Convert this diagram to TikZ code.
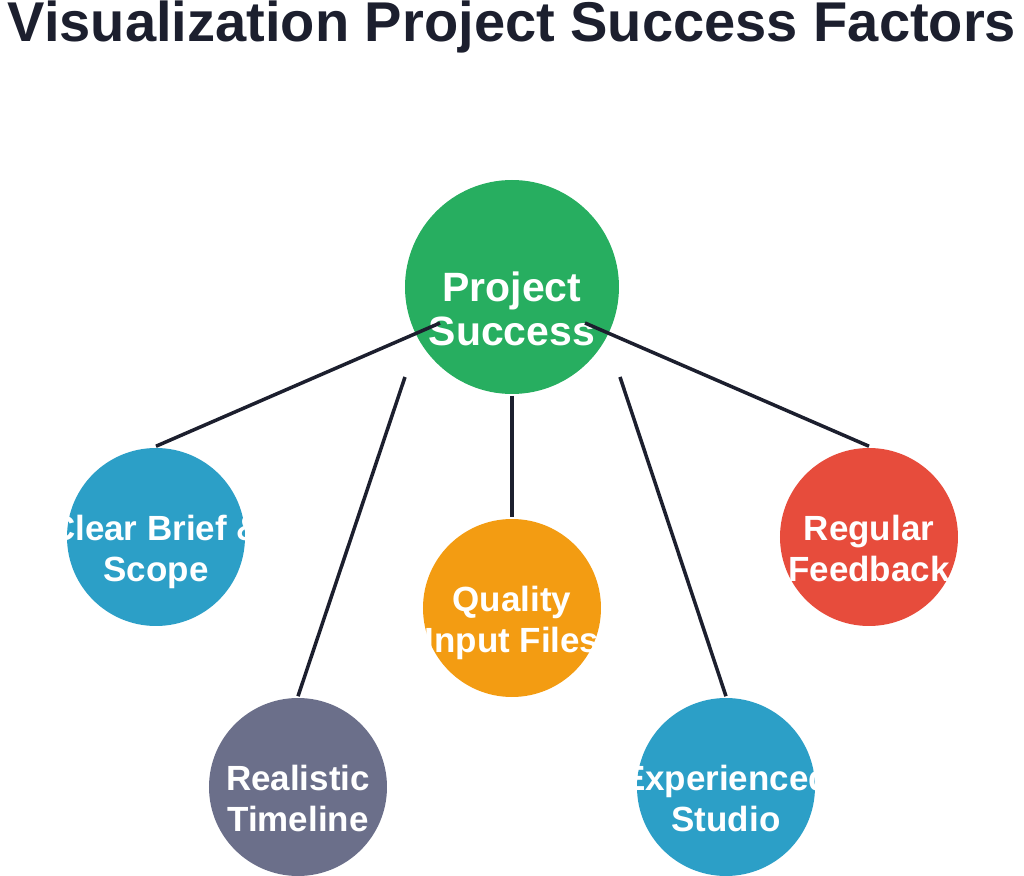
\documentclass[tikz,border=0pt]{standalone}
\usepackage{fontspec}
\setmainfont{Liberation Sans}

\definecolor{titleink}{HTML}{1C1F2E}
\definecolor{lineink}{HTML}{1C1F2E}
\definecolor{hubgreen}{HTML}{27AE60}
\definecolor{factorblue}{HTML}{2C9FC7}
\definecolor{factorslate}{HTML}{6B6F8A}
\definecolor{factororange}{HTML}{F39C12}
\definecolor{factorred}{HTML}{E74C3C}

\tikzset{
    hub/.style={circle, fill=hubgreen, minimum size=4.28cm, inner sep=0pt},
    factor/.style={circle, minimum size=3.56cm, inner sep=0pt},
    hubtext/.style={anchor=north, inner sep=0pt, text=white, align=center,
        font=\fontsize{23.3}{25}\selectfont\bfseries},
    factortext/.style={anchor=north, inner sep=0pt, text=white, align=center,
        font=\fontsize{19.9}{23.3}\selectfont\bfseries},
}

\begin{document}
\begin{tikzpicture}[line width=2pt]
    \useasboundingbox (-10.24,-11.78) rectangle (10.24,5.74);

    % タイトル
    \node[anchor=base, text=titleink, font=\fontsize{31.9}{36}\selectfont\bfseries]
        (title) at (0,4.9) {Visualization Project Success Factors};

    % 中心の円
    \node[hub] (ps) at (0,0) {};
    \node[hubtext] (ps-t) at (0,0.34) {Project\\Success};

    % 要因の円
    \node[factor, fill=factorblue] (cb) at (-7.12,-5.0) {};
    \node[factortext] (cb-t) at (-7.12,-4.53) {Clear Brief \&\\Scope};

    \node[factor, fill=factorslate] (rt) at (-4.28,-10.0) {};
    \node[factortext] (rt-t) at (-4.28,-9.53) {Realistic\\Timeline};

    \node[factor, fill=factororange] (qf) at (0,-6.42) {};
    \node[factortext] (qf-t) at (0,-5.95) {Quality\\Input Files};

    \node[factor, fill=factorblue] (es) at (4.28,-10.0) {};
    \node[factortext] (es-t) at (4.28,-9.53) {Experienced\\Studio};

    \node[factor, fill=factorred] (rf) at (7.14,-5.0) {};
    \node[factortext] (rf-t) at (7.14,-4.53) {Regular\\Feedback};

    % 接続線
    \coordinate (ps-a) at (-1.44,-0.72);
    \coordinate (ps-b) at (-2.14,-1.80);
    \coordinate (ps-c) at (2.16,-1.80);
    \coordinate (ps-d) at (1.46,-0.72);
    \foreach \from/\to in {ps-a/cb, ps-b/rt, ps.south/qf, ps-c/es, ps-d/rf}
        \draw[lineink] (\from) -- (\to.north);
\end{tikzpicture}
\end{document}
